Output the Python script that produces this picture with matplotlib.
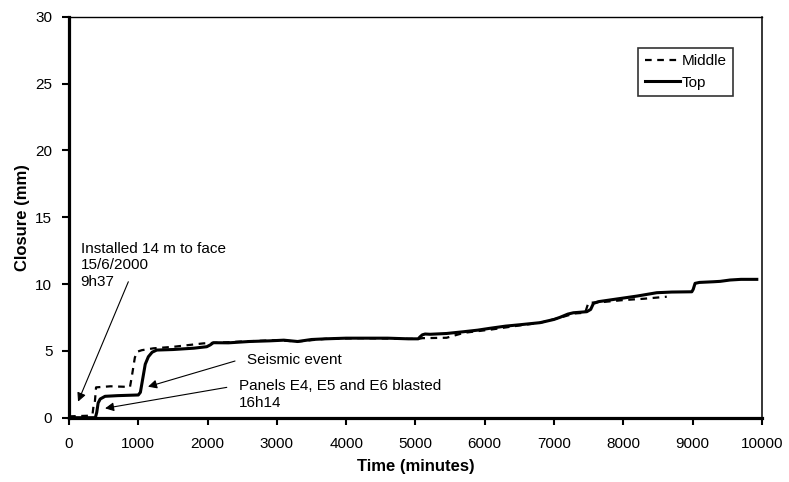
import numpy as np
import matplotlib
matplotlib.use('Agg')
import matplotlib.pyplot as plt

plt.rcParams['font.family'] = ['Liberation Sans', 'DejaVu Sans']

# Top sensor (solid)
top_t = [0, 380, 400, 420, 450, 520, 700, 1000, 1030, 1060, 1100, 1145, 1200, 1266,
         1500, 1800, 1988, 2040, 2083, 2300, 2600, 2900, 3100, 3300, 3500, 3700, 4000,
         4300, 4600, 4900, 5040, 5067, 5100, 5140, 5212, 5450, 5693, 5900, 6078, 6300,
         6500, 6800, 7000, 7088, 7200, 7280, 7474, 7530, 7570, 7641, 7800, 8000, 8200,
         8484, 8700, 8990, 9010, 9037, 9100, 9302, 9400, 9542, 9700, 9928]
top_c = [0, 0, 0.4, 1.1, 1.4, 1.6, 1.65, 1.7, 1.9, 2.8, 4.0, 4.56, 4.9, 5.06,
         5.1, 5.2, 5.31, 5.45, 5.61, 5.6, 5.7, 5.75, 5.8, 5.7, 5.85, 5.9, 5.95,
         5.95, 5.95, 5.9, 5.9, 6.05, 6.2, 6.26, 6.24, 6.3, 6.43, 6.55, 6.69, 6.85,
         6.95, 7.11, 7.35, 7.51, 7.75, 7.85, 7.93, 8.1, 8.55, 8.68, 8.8, 8.95, 9.1,
         9.35, 9.4, 9.42, 9.6, 10.05, 10.12, 10.17, 10.2, 10.3, 10.35, 10.35]

# Middle sensor (dashed)
mid_t = [0, 300, 340, 355, 370, 390, 600, 880, 910, 950, 986, 1050, 1217, 1500, 1939,
         2100, 2500, 3000, 3300, 3700, 4200, 4900, 5050, 5100, 5450, 5700, 6100, 6500,
         6800, 7100, 7300, 7450, 7497, 7520, 7700, 8002, 8300, 8628]
mid_c = [0.1, 0.15, 0.3, 0.95, 1.0, 2.27, 2.35, 2.3, 3.2, 4.5, 4.94, 5.05, 5.19, 5.3, 5.56,
         5.6, 5.7, 5.8, 5.7, 5.9, 5.95, 5.9, 5.9, 5.95, 5.98, 6.35, 6.6, 6.9,
         7.1, 7.5, 7.8, 7.85, 8.6, 8.6, 8.65, 8.8, 8.9, 9.05]

fig = plt.figure(figsize=(7.89, 4.82), dpi=100)
ax = fig.add_axes([0.0875, 0.1334, 0.878, 0.832])

ax.plot(mid_t, mid_c, color='black', lw=1.6, linestyle=(0, (3, 2.5)), label='Middle')
ax.plot(top_t, top_c, color='black', lw=2.2, label='Top')

ax.set_xlim(0, 10000)
ax.set_ylim(0, 30)
ax.set_xticks(np.arange(0, 10001, 1000))
ax.set_yticks(np.arange(0, 31, 5))
ax.tick_params(axis='both', direction='out', length=5, width=1.5, labelsize=11)
ax.tick_params(axis='x', pad=9)
ax.tick_params(axis='y', pad=7)

ax.spines['left'].set_linewidth(2.3)
ax.spines['bottom'].set_linewidth(2.3)
ax.spines['top'].set_linewidth(1.0)
ax.spines['right'].set_linewidth(1.1)

ax.set_xlabel('Time (minutes)', fontsize=12, fontweight='bold', labelpad=6)
ax.set_ylabel('Closure (mm)', fontsize=12, fontweight='bold', labelpad=4)

leg = ax.legend(loc='upper right', bbox_to_anchor=(0.9586, 0.922), borderaxespad=0,
                fontsize=11, frameon=True, fancybox=False, edgecolor='black',
                handlelength=2.3, handletextpad=0.15, labelspacing=0.5, borderpad=0.4)
leg.get_frame().set_linewidth(1.2)

arrow = dict(arrowstyle='-|>', color='black', lw=0.8, mutation_scale=13, shrinkA=0, shrinkB=0)

ax.text(169, 11.4, 'Installed 14 m to face\n15/6/2000\n9h37', fontsize=11,
        va='center', ha='left', linespacing=1.25)
ax.annotate('', xy=(130, 1.2), xytext=(856, 10.17), arrowprops=arrow)

ax.text(2565, 4.32, 'Seismic event', fontsize=11, va='center', ha='left')
ax.annotate('', xy=(1140, 2.32), xytext=(2396, 4.24), arrowprops=arrow)

ax.text(2454, 1.76, 'Panels E4, E5 and E6 blasted\n16h14', fontsize=11,
        va='center', ha='left', linespacing=1.25)
ax.annotate('', xy=(520, 0.70), xytext=(2277, 2.27), arrowprops=arrow)

plt.savefig('out.png', dpi=100)
